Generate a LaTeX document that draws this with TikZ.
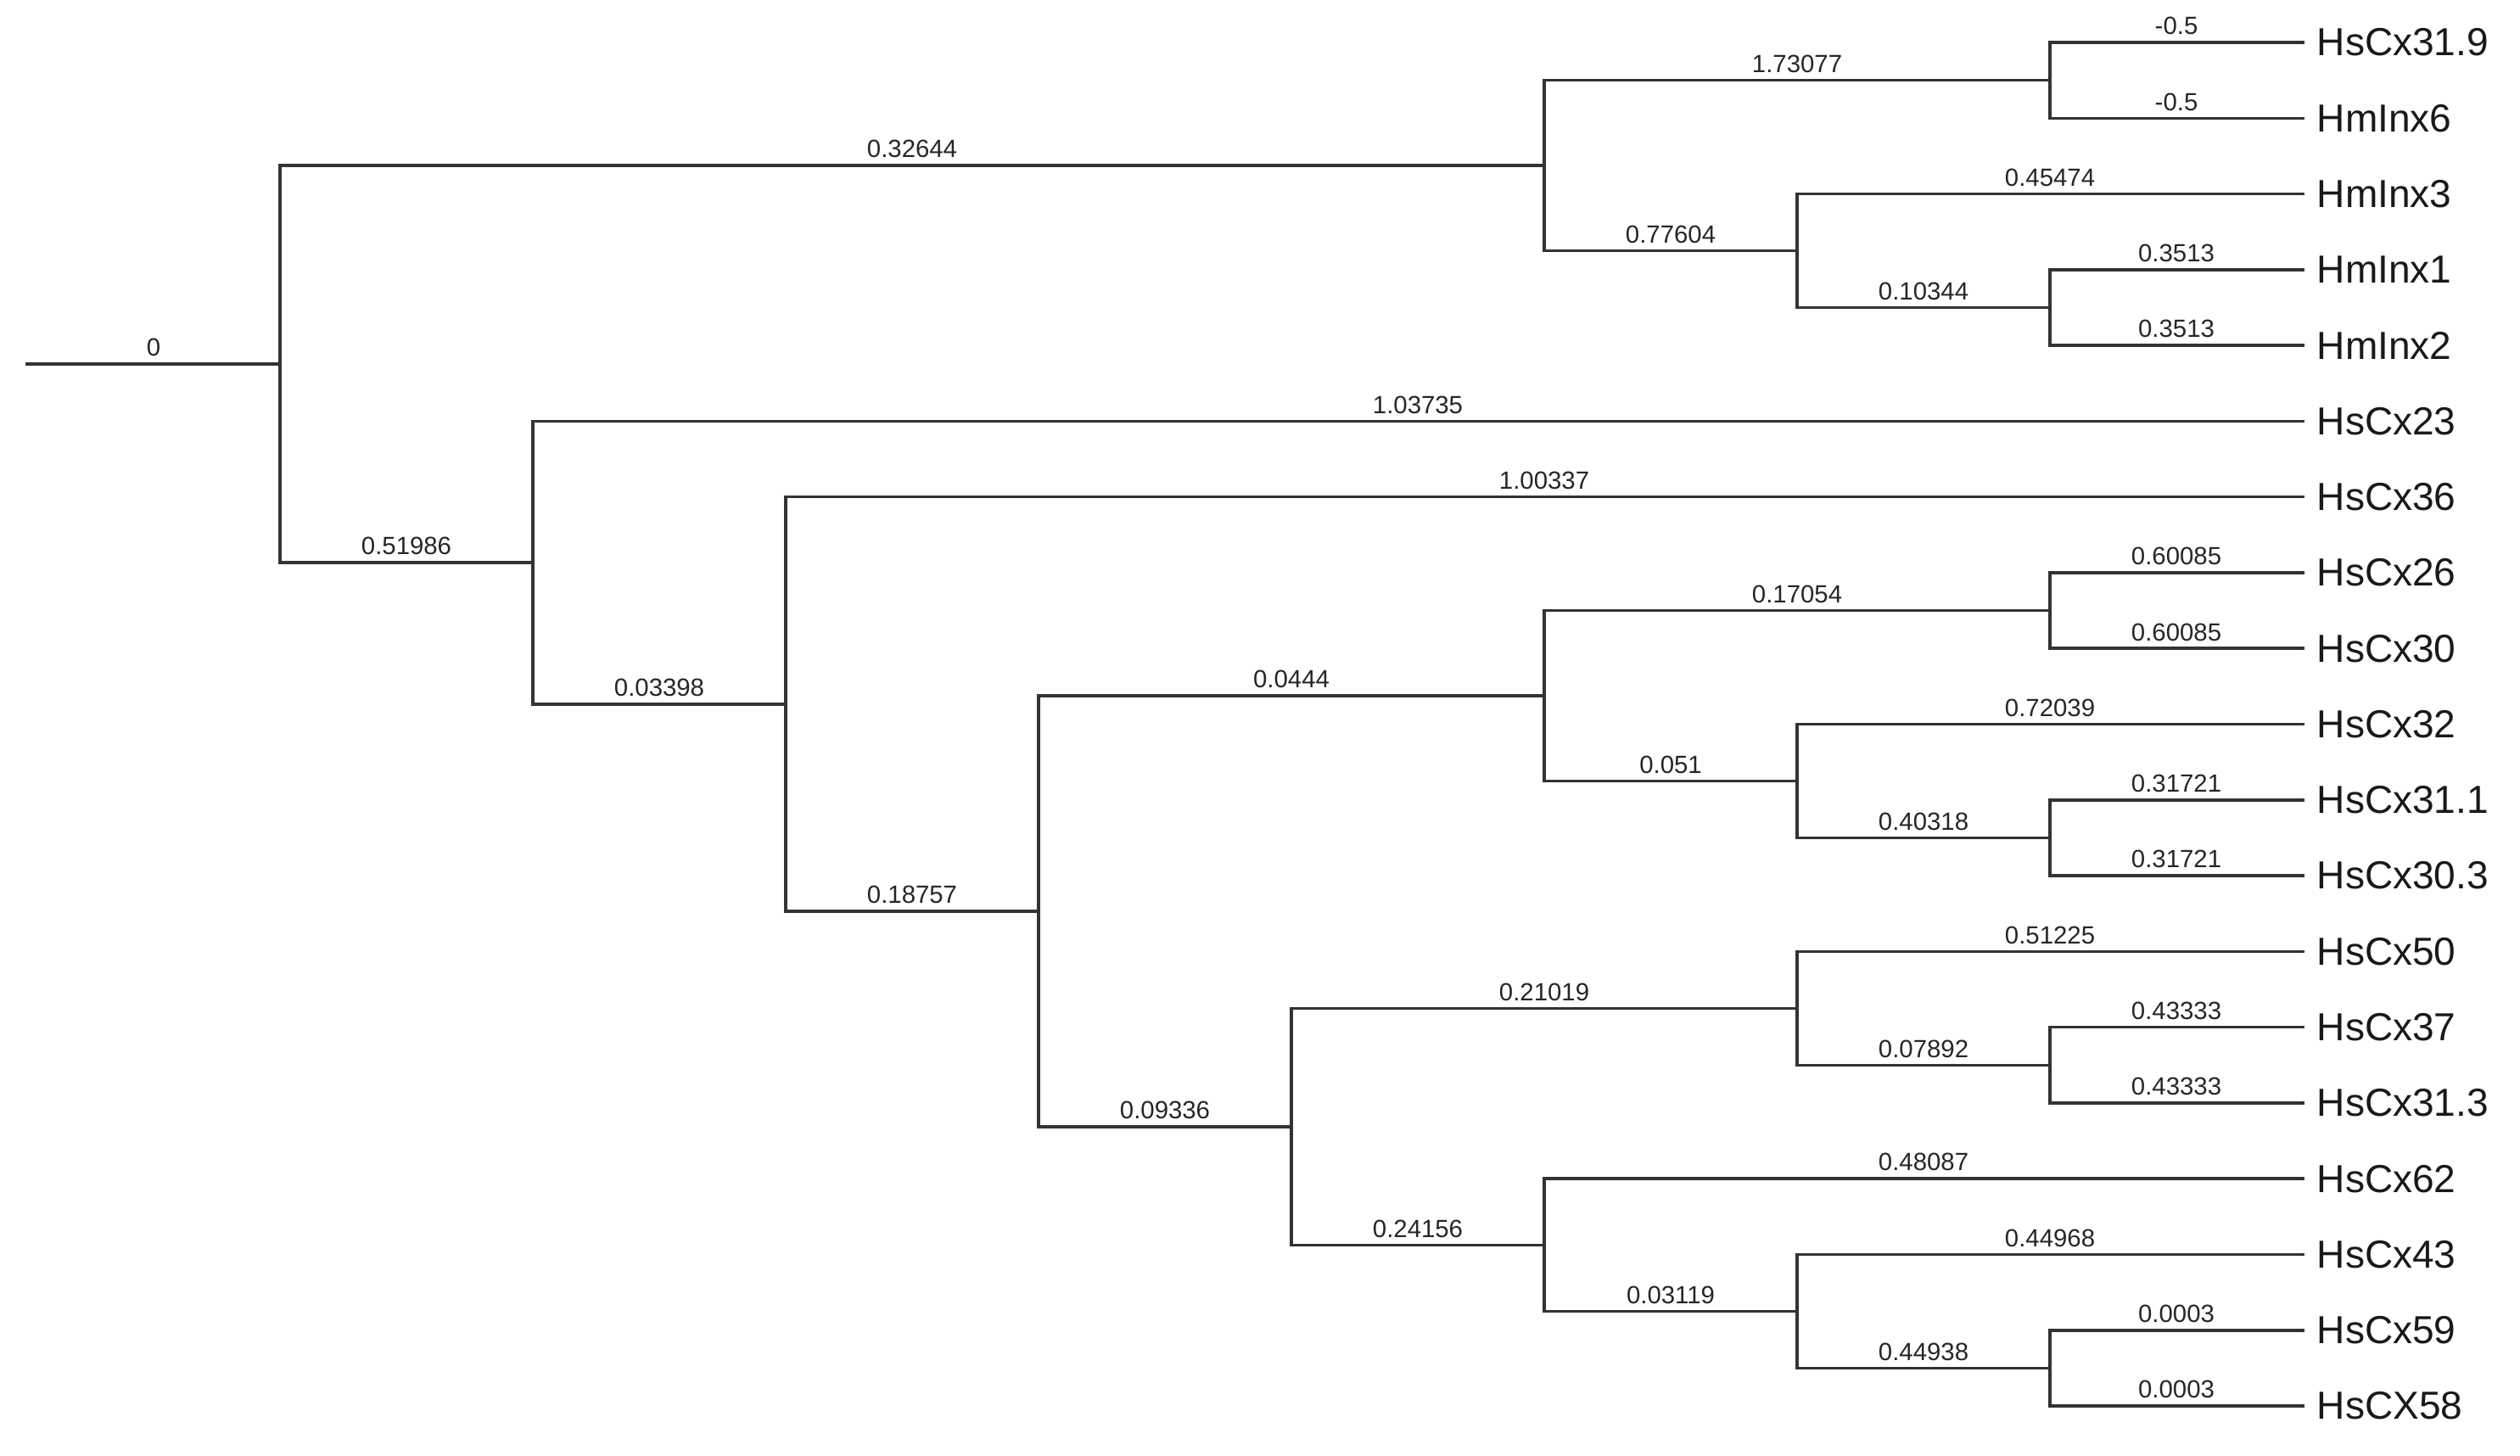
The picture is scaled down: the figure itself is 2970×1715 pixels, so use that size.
\documentclass[tikz,border=0pt]{standalone}
\usepackage{fontspec}
\setmainfont{Liberation Sans}
\tikzset{
  br/.style={draw=black!80, line width=1pt, line cap=rect},
  bl/.style={font=\fontsize{8.35}{10}\selectfont, text=black!85, inner sep=0pt, above=0.072cm},
  leaf/.style={font=\fontsize{13.1}{15}\selectfont, text=black!90, anchor=west, inner xsep=0.16cm, inner ysep=0pt}
}
\begin{document}
\begin{tikzpicture}[x=0.01cm,y=-0.01cm]
\useasboundingbox (0,0) rectangle (2970,1715);
% leaves
\node[leaf] (l0)  at (2714,50)      {HsCx31.9};
\node[leaf] (l1)  at (2714,139.28)  {HmInx6};
\node[leaf] (l2)  at (2714,228.56)  {HmInx3};
\node[leaf] (l3)  at (2714,317.84)  {HmInx1};
\node[leaf] (l4)  at (2714,407.12)  {HmInx2};
\node[leaf] (l5)  at (2714,496.4)   {HsCx23};
\node[leaf] (l6)  at (2714,585.68)  {HsCx36};
\node[leaf] (l7)  at (2714,674.96)  {HsCx26};
\node[leaf] (l8)  at (2714,764.24)  {HsCx30};
\node[leaf] (l9)  at (2714,853.52)  {HsCx32};
\node[leaf] (l10) at (2714,942.8)   {HsCx31.1};
\node[leaf] (l11) at (2714,1032.08) {HsCx30.3};
\node[leaf] (l12) at (2714,1121.36) {HsCx50};
\node[leaf] (l13) at (2714,1210.64) {HsCx37};
\node[leaf] (l14) at (2714,1299.92) {HsCx31.3};
\node[leaf] (l15) at (2714,1389.2)  {HsCx62};
\node[leaf] (l16) at (2714,1478.48) {HsCx43};
\node[leaf] (l17) at (2714,1567.76) {HsCx59};
\node[leaf] (l18) at (2714,1657.04) {HsCX58};
% internal nodes
\coordinate (r0)   at (32,429.09);
\coordinate (root) at (330,429.09);
\coordinate (A)  at (1820,195.08);
\coordinate (A1) at (2416,94.64);
\coordinate (A2) at (2118,295.52);
\coordinate (A3) at (2416,362.48);
\coordinate (B)  at (628,663.1);
\coordinate (C)  at (926,829.8);
\coordinate (D)  at (1224,1073.93);
\coordinate (E)  at (1820,820.04);
\coordinate (E1) at (2416,719.6);
\coordinate (E2) at (2118,920.48);
\coordinate (E3) at (2416,987.44);
\coordinate (F)  at (1522,1327.82);
\coordinate (G)  at (2118,1188.32);
\coordinate (G1) at (2416,1255.28);
\coordinate (H)  at (1820,1467.32);
\coordinate (H1) at (2118,1545.44);
\coordinate (H2) at (2416,1612.4);
% root stub
\draw[br] (r0) -- (root) node[bl,midway]{0};
% upper clade
\draw[br] (root) |- (A) node[bl,pos=0.75]{0.32644};
\draw[br] (A) |- (A1) node[bl,pos=0.75]{1.73077};
\draw[br] (A1) |- (l0.west) node[bl,pos=0.75]{-0.5};
\draw[br] (A1) |- (l1.west) node[bl,pos=0.75]{-0.5};
\draw[br] (A) |- (A2) node[bl,pos=0.75]{0.77604};
\draw[br] (A2) |- (l2.west) node[bl,pos=0.75]{0.45474};
\draw[br] (A2) |- (A3) node[bl,pos=0.75]{0.10344};
\draw[br] (A3) |- (l3.west) node[bl,pos=0.75]{0.3513};
\draw[br] (A3) |- (l4.west) node[bl,pos=0.75]{0.3513};
% lower clade
\draw[br] (root) |- (B) node[bl,pos=0.75]{0.51986};
\draw[br] (B) |- (l5.west) node[bl,pos=0.75]{1.03735};
\draw[br] (B) |- (C) node[bl,pos=0.75]{0.03398};
\draw[br] (C) |- (l6.west) node[bl,pos=0.75]{1.00337};
\draw[br] (C) |- (D) node[bl,pos=0.75]{0.18757};
\draw[br] (D) |- (E) node[bl,pos=0.75]{0.0444};
\draw[br] (E) |- (E1) node[bl,pos=0.75]{0.17054};
\draw[br] (E1) |- (l7.west) node[bl,pos=0.75]{0.60085};
\draw[br] (E1) |- (l8.west) node[bl,pos=0.75]{0.60085};
\draw[br] (E) |- (E2) node[bl,pos=0.75]{0.051};
\draw[br] (E2) |- (l9.west) node[bl,pos=0.75]{0.72039};
\draw[br] (E2) |- (E3) node[bl,pos=0.75]{0.40318};
\draw[br] (E3) |- (l10.west) node[bl,pos=0.75]{0.31721};
\draw[br] (E3) |- (l11.west) node[bl,pos=0.75]{0.31721};
\draw[br] (D) |- (F) node[bl,pos=0.75]{0.09336};
\draw[br] (F) |- (G) node[bl,pos=0.75]{0.21019};
\draw[br] (G) |- (l12.west) node[bl,pos=0.75]{0.51225};
\draw[br] (G) |- (G1) node[bl,pos=0.75]{0.07892};
\draw[br] (G1) |- (l13.west) node[bl,pos=0.75]{0.43333};
\draw[br] (G1) |- (l14.west) node[bl,pos=0.75]{0.43333};
\draw[br] (F) |- (H) node[bl,pos=0.75]{0.24156};
\draw[br] (H) |- (l15.west) node[bl,pos=0.75]{0.48087};
\draw[br] (H) |- (H1) node[bl,pos=0.75]{0.03119};
\draw[br] (H1) |- (l16.west) node[bl,pos=0.75]{0.44968};
\draw[br] (H1) |- (H2) node[bl,pos=0.75]{0.44938};
\draw[br] (H2) |- (l17.west) node[bl,pos=0.75]{0.0003};
\draw[br] (H2) |- (l18.west) node[bl,pos=0.75]{0.0003};
\end{tikzpicture}
\end{document}
